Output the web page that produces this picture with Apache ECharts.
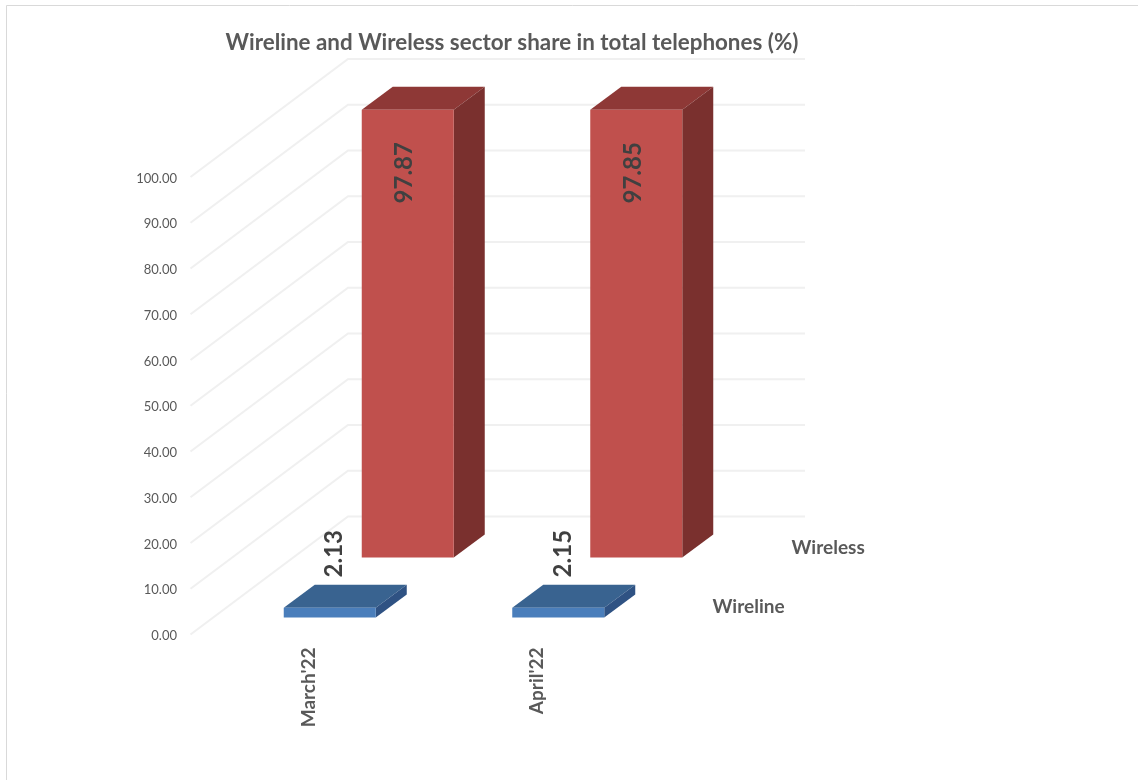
<!DOCTYPE html>
<html><head><meta charset="utf-8">
<style>html,body{margin:0;padding:0;background:#fff}#c{width:1138px;height:780px}</style>
<script src="https://cdn.jsdelivr.net/npm/echarts@6/dist/echarts.min.js"></script>
</head><body><div id="c"></div>
<script>
const titleText = 'Wireline and Wireless sector share in total telephones (%)';
const categories = ["March'22", "April'22"];
const seriesNames = ['Wireline', 'Wireless'];
const wireline = [2.13, 2.15];
const wireless = [97.87, 97.85];
const yTicks = [0,10,20,30,40,50,60,70,80,90,100];

const FONT = 'Lato, "Open Sans", sans-serif';
const TEXT = '#595959', LABEL = '#404040';
const wall = {dx:157.5, dy:-118};
const barW = 92, barD = {dx:31, dy:-23};
const rows = [
  {dx:25, dy:-17, front:'#4A7EBB', top:'#396390', side:'#2F5283', lblX:5, lblY:-54, name:[65,-28]},
  {dx:103, dy:-77, front:'#C0504D', top:'#8E3836', side:'#7A302E', lblX:-3, lblY:63, name:[144,-87]}
];

function poly(points, fill){ return {type:'polygon', shape:{points}, style:{fill}, silent:true}; }

function gridItem(params, api){
  const v = api.value(0);
  const y = api.coord([0, v])[1];
  const l = params.coordSys.x, w = params.coordSys.width;
  return {type:'polyline', silent:true,
    shape:{points:[[l,y],[l+wall.dx,y+wall.dy],[l+wall.dx+w,y+wall.dy]]},
    style:{stroke:'#f0f0f0', lineWidth:2, fill:null}};
}

function barItem(row){
  return function(params, api){
    const c = api.value(0), v = api.value(1);
    const p = api.coord([c, v]), b = api.coord([c, 0]);
    const r = rows[row];
    const x0 = p[0]+r.dx-barW/2, x1 = x0+barW;
    const yT = p[1]+r.dy, yB = b[1]+r.dy;
    const d = barD;
    return {type:'group', children:[
      poly([[x0,yT],[x1,yT],[x1+d.dx,yT+d.dy],[x0+d.dx,yT+d.dy]], r.top),
      poly([[x1,yT],[x1+d.dx,yT+d.dy],[x1+d.dx,yB+d.dy],[x1,yB]], r.side),
      {type:'rect', silent:true, shape:{x:x0,y:yT,width:barW,height:yB-yT}, style:{fill:r.front}},
      {type:'text', silent:true, x:p[0]+r.dx+r.lblX, y:yT+r.lblY, rotation:Math.PI/2,
        style:{text:v.toFixed(2), fill:LABEL, font:'bold 24px '+FONT, align:'center', verticalAlign:'middle'}}
    ]};
  };
}

function nameItem(params, api){
  const i = api.value(0), r = rows[i];
  const base = api.coord([0,0]);
  const right = params.coordSys.x + params.coordSys.width;
  return {type:'text', silent:true, x:right+r.name[0], y:base[1]+r.name[1],
    style:{text:seriesNames[i], fill:TEXT, font:'bold 19px '+FONT, align:'left', verticalAlign:'middle'}};
}

const chart = echarts.init(document.getElementById('c'), null, {renderer:'canvas'});
chart.setOption({
  animation:false,
  backgroundColor:'#fff',
  title:{text:titleText, left:507, top:27, textAlign:'center',
    textStyle:{fontFamily:FONT, fontSize:22.4, fontWeight:'bold', color:TEXT}},
  graphic:[{type:'rect', silent:true, z:-1, shape:{x:6.5,y:5.5,width:1300,height:900},
    style:{fill:null, stroke:'#d9d9d9', lineWidth:1}}],
  grid:{left:190.5, top:177, width:457, height:457.5},
  xAxis:{type:'category', data:categories,
    axisLine:{show:false}, axisTick:{show:false}, splitLine:{show:false},
    axisLabel:{rotate:90, margin:13, formatter:v=>'{a|'+v+'}',
      rich:{a:{padding:[8,0,0,0], color:TEXT, fontFamily:FONT, fontSize:19, fontWeight:'bold'}}}},
  yAxis:{type:'value', min:0, max:100, interval:10,
    axisLine:{show:false}, axisTick:{show:false}, splitLine:{show:false},
    axisLabel:{margin:13.5, formatter:v=>'{a|'+v.toFixed(2)+'}',
      rich:{a:{padding:[3,0,0,0], color:TEXT, fontFamily:FONT, fontSize:13}}}},
  series:[
    {type:'custom', name:'grid', clip:false, z:1, renderItem:gridItem, data:yTicks.map(v=>[v]), encode:{y:0}},
    {type:'custom', name:seriesNames[1], clip:false, z:2, renderItem:barItem(1),
      data:wireless.map((v,i)=>[i,v]), encode:{x:0,y:1}},
    {type:'custom', name:seriesNames[0], clip:false, z:3, renderItem:barItem(0),
      data:wireline.map((v,i)=>[i,v]), encode:{x:0,y:1}},
    {type:'custom', name:'names', clip:false, z:3, renderItem:nameItem, data:seriesNames.map((n,i)=>[i]), encode:{}}
  ]
});
</script></body></html>
